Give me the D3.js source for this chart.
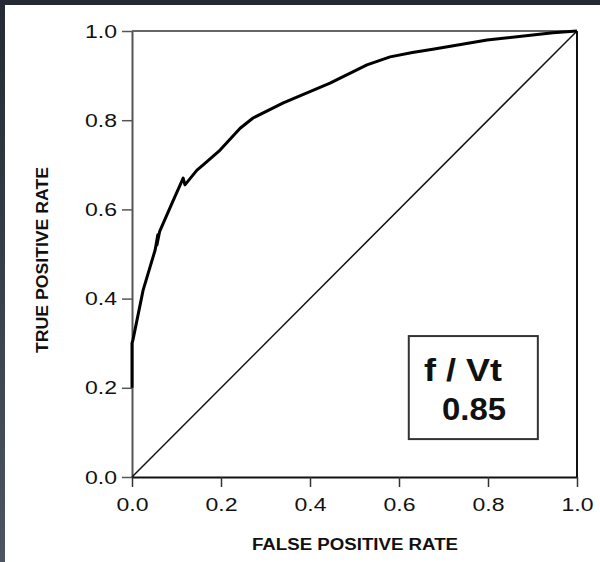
<!DOCTYPE html>
<html>
<head>
  <style>
    body{ margin:0; background:#fff; }
    svg{ display:block; font-family: "Liberation Sans", Arial, sans-serif; }
    .tick text{ fill:#111; font-size:19px; }
    .axis-title{ font-weight:bold; font-size:16px; fill:#111; }
    .box-label{ font-weight:bold; font-size:31px; fill:#111; }
  </style>
  <script src="https://d3js.org/d3.v7.min.js"></script>
</head>
<body>
<div class="chart"></div>
<script>
// ROC curve
const fpr = [0, 0, 0.002, 0.025, 0.052, 0.058, 0.056, 0.062, 0.09, 0.115, 0.119, 0.146, 0.16, 0.198, 0.243, 0.272, 0.34, 0.445, 0.528, 0.58, 0.63, 0.676, 0.798, 0.946, 1];
const tpr = [0.2, 0.30, 0.307, 0.419, 0.509, 0.543, 0.52, 0.55, 0.614, 0.670, 0.655, 0.688, 0.70, 0.733, 0.782, 0.805, 0.839, 0.883, 0.924, 0.942, 0.952, 0.959, 0.98, 0.996, 1];
const tickValues = [0, 0.2, 0.4, 0.6, 0.8, 1.0];
const boxLines = ['f / Vt', '0.85'];

const width = 600, height = 562;
const svg = d3.select('.chart').append('svg')
  .attr('width', width)
  .attr('height', height);

// dark frame on top and left
const grad = svg.append('defs').append('linearGradient')
  .attr('id', 'edge').attr('x1', 0).attr('y1', 0).attr('x2', 0).attr('y2', 1);
grad.append('stop').attr('offset', 0).attr('stop-color', '#232a33');
grad.append('stop').attr('offset', 1).attr('stop-color', '#4b5662');
svg.append('rect').attr('width', width).attr('height', 5).attr('fill', '#232a33');
svg.append('rect').attr('width', 5).attr('height', height).attr('fill', 'url(#edge)');

const x = d3.scaleLinear().domain([0, 1]).range([132, 577]);
const y = d3.scaleLinear().domain([0, 1]).range([477, 31]);

// frame: top and left grey, right and bottom black
svg.append('line').attr('x1', x(0)).attr('x2', x(1)).attr('y1', y(1)).attr('y2', y(1))
  .attr('stroke', '#666').attr('stroke-width', 2);
svg.append('line').attr('x1', x(1)).attr('x2', x(1)).attr('y1', y(1)).attr('y2', y(0))
  .attr('stroke', '#111').attr('stroke-width', 2);

const yAxis = svg.append('g')
  .attr('transform', `translate(${x(0)},0)`)
  .call(d3.axisLeft(y).tickValues(tickValues).tickFormat(d3.format('.1f'))
    .tickSize(10).tickSizeOuter(0).tickPadding(5));
yAxis.select('.domain').attr('stroke', '#555').attr('stroke-width', 2);
yAxis.selectAll('.tick line').attr('stroke', '#555').attr('stroke-width', 1.5);
yAxis.selectAll('.tick text').attr('textLength', 32).attr('lengthAdjust', 'spacingAndGlyphs');

const xAxis = svg.append('g')
  .attr('transform', `translate(0,${y(0)})`)
  .call(d3.axisBottom(x).tickValues(tickValues).tickFormat(d3.format('.1f'))
    .tickSize(10).tickSizeOuter(0).tickPadding(11));
xAxis.select('.domain').attr('stroke', '#111').attr('stroke-width', 2);
xAxis.selectAll('.tick line').attr('stroke', '#333').attr('stroke-width', 1.5);
xAxis.selectAll('.tick text').attr('textLength', 32).attr('lengthAdjust', 'spacingAndGlyphs');

// chance line
svg.append('line')
  .attr('x1', x(0)).attr('y1', y(0)).attr('x2', x(1)).attr('y2', y(1))
  .attr('stroke', '#111').attr('stroke-width', 1.5);

// ROC curve
const pts = fpr.map((f, i) => [f, tpr[i]]);
svg.append('path')
  .datum(pts)
  .attr('fill', 'none')
  .attr('stroke', '#000')
  .attr('stroke-width', 3)
  .attr('stroke-linejoin', 'round')
  .attr('d', d3.line().x(d => x(d[0])).y(d => y(d[1])));

// annotation box
svg.append('rect')
  .attr('x', x(0.622)).attr('y', y(0.316))
  .attr('width', x(0.912) - x(0.622)).attr('height', y(0.085) - y(0.316))
  .attr('fill', '#fff').attr('stroke', '#333').attr('stroke-width', 2);
svg.append('text').attr('class', 'box-label')
  .attr('x', 424).attr('y', 381)
  .attr('textLength', 78).attr('lengthAdjust', 'spacingAndGlyphs')
  .text(boxLines[0]);
svg.append('text').attr('class', 'box-label')
  .attr('x', 442).attr('y', 420)
  .attr('textLength', 64).attr('lengthAdjust', 'spacingAndGlyphs')
  .text(boxLines[1]);

// axis titles
svg.append('text').attr('class', 'axis-title')
  .attr('text-anchor', 'middle')
  .attr('transform', 'translate(48,260) rotate(-90)')
  .attr('textLength', 186).attr('lengthAdjust', 'spacingAndGlyphs')
  .text('TRUE POSITIVE RATE');
svg.append('text').attr('class', 'axis-title')
  .attr('text-anchor', 'middle')
  .attr('x', 355).attr('y', 550)
  .attr('textLength', 206).attr('lengthAdjust', 'spacingAndGlyphs')
  .text('FALSE POSITIVE RATE');
</script>
</body>
</html>
